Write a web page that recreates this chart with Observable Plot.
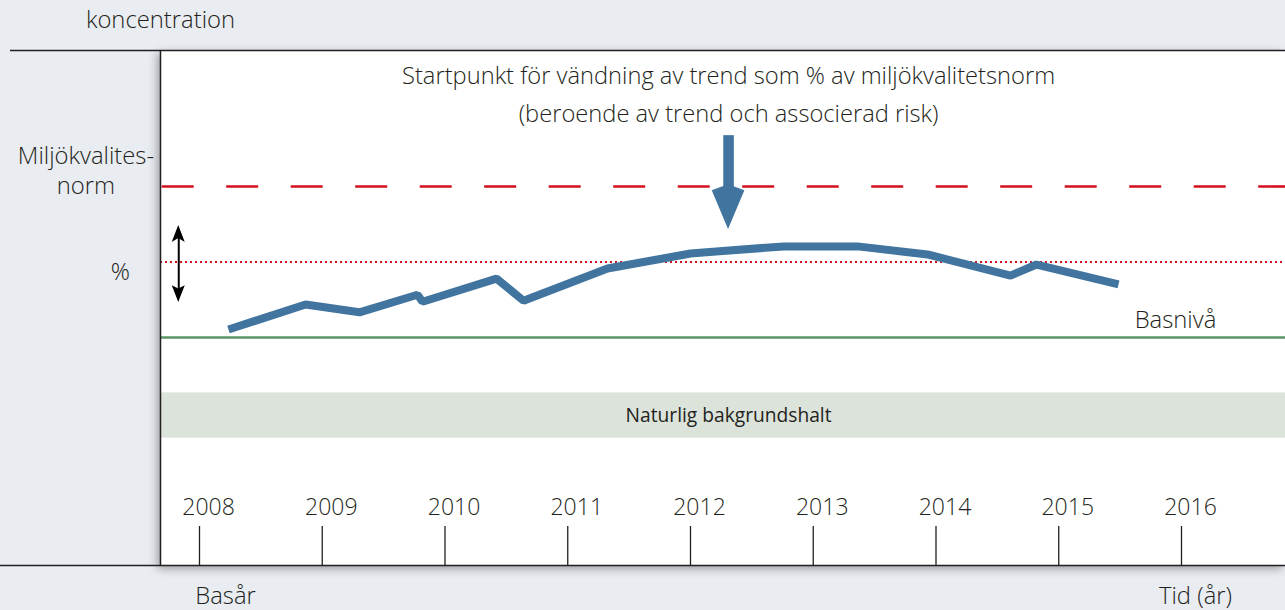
<!DOCTYPE html>
<html><head><meta charset="utf-8">
<script src="https://cdn.jsdelivr.net/npm/d3@7"></script>
<script src="https://cdn.jsdelivr.net/npm/@observablehq/plot@0.6"></script>
<style>
html,body{margin:0;padding:0;background:#e9ecf1;overflow:hidden;}
#chart svg text{font-family:"Open Sans",sans-serif;}
</style></head><body><div id="chart"></div>
<script>
// ---- data ----
const years = [2008, 2009, 2010, 2011, 2012, 2013, 2014, 2015, 2016];
const trendYears  = [2008.236, 2008.864, 2009.303, 2009.776, 2009.817, 2010.420, 2010.640, 2011.324, 2012.000, 2012.758, 2013.360, 2013.931, 2014.607, 2014.819, 2015.487];
const trendValues = [43.2, 53.1, 50.0, 57.0, 54.2, 63.4, 54.6, 67.4, 73.4, 76.2, 76.2, 73.0, 64.6, 69.0, 61.1];
const normValue = 100;      // Miljökvalitetsnorm
const pctValue = 70;        // % av norm
const baseValue = 40;       // Basnivå
const bgLow = 0, bgHigh = 18; // Naturlig bakgrundshalt

const titleText = "Startpunkt för vändning av trend som % av miljökvalitetsnorm\n(beroende av trend och associerad risk)";
const bandText = "Naturlig bakgrundshalt";

// ---- scales / layout (data units) ----
const xMin = 2007.6823, xMax = 2016.8473;
const yMin = -50.6, yMax = 154.04;
const tickTop = -35.1, tickLabelY = -27.6;
const arrowYear = 2012.31;
const dblArrowYear = 2007.831;

const rows = trendYears.map((x, i) => ({x, y: trendValues[i]}));

const ink = "#231f20";
const blue = "#41759f";
const red = "#d2101e";

const blueHead = [
  {x: 2012.177, y1: 98.3, y2: 98.3},
  {x: arrowYear, y1: 100.7, y2: 82.9},
  {x: 2012.443, y1: 98.3, y2: 98.3}
];
const upHead = [
  {x: dblArrowYear - 0.053, y1: 77.7, y2: 77.7},
  {x: dblArrowYear, y1: 79.3, y2: 84.5},
  {x: dblArrowYear + 0.053, y1: 77.7, y2: 77.7}
];
const downHead = [
  {x: dblArrowYear - 0.053, y1: 60.6, y2: 60.6},
  {x: dblArrowYear, y1: 59.3, y2: 53.9},
  {x: dblArrowYear + 0.053, y1: 60.6, y2: 60.6}
];

const labels = [
  {x: 2007.682, y: 165.9, t: "koncentration"},
  {x: 2007.075, y: 111.8, t: "Miljökvalites-"},
  {x: 2007.075, y: 100.0, t: "norm"},
  {x: 2007.356, y: 65.8, t: "%"},
  {x: 2015.951, y: 46.8, t: "Basnivå"},
  {x: 2008.212, y: -63.0, t: "Basår"},
  {x: 2016.114, y: -63.0, t: "Tid (år)"}
];

const chart = Plot.plot({
  width: 1285, height: 610,
  marginLeft: 160, marginRight: 0, marginTop: 50, marginBottom: 45,
  x: {domain: [xMin, xMax], axis: null},
  y: {domain: [yMin, yMax], axis: null},
  style: {background: "transparent", fontFamily: "Open Sans", overflow: "visible", color: ink},
  marks: [
    Plot.frame({fill: "white", stroke: "none"}),
    Plot.rect([{x1: xMin, x2: xMax, y1: bgLow, y2: bgHigh}], {x1: "x1", x2: "x2", y1: "y1", y2: "y2", fill: "#dce3da"}),
    Plot.text([bandText], {x: arrowYear, y: (bgLow + bgHigh) / 2, text: d => d, fontSize: 19.2, fill: ink}),
    Plot.ruleY([baseValue], {stroke: "#5a9663", strokeWidth: 2.6}),
    Plot.ruleY([pctValue], {stroke: red, strokeWidth: 2, strokeDasharray: "2,3"}),
    Plot.ruleY([normValue], {stroke: red, strokeWidth: 2.6, strokeDasharray: "32,32.5", strokeDashoffset: -1.7}),
    Plot.line(rows, {x: "x", y: "y", stroke: blue, strokeWidth: 8, strokeLinejoin: "miter", strokeLinecap: "butt"}),
    Plot.ruleX([arrowYear], {y1: 99.5, y2: 120.2, stroke: blue, strokeWidth: 10.6}),
    Plot.areaY(blueHead, {x: "x", y1: "y1", y2: "y2", fill: blue, curve: "linear"}),
    Plot.ruleX([dblArrowYear], {y1: 58, y2: 80, stroke: "black", strokeWidth: 2}),
    Plot.areaY(upHead, {x: "x", y1: "y1", y2: "y2", fill: "black"}),
    Plot.areaY(downHead, {x: "x", y1: "y1", y2: "y2", fill: "black"}),
    Plot.text([titleText], {x: arrowYear, y: 138.0, text: d => d, fontSize: 23.7, lineHeight: 1.6, fill: ink, fontWeight: 300}),
    Plot.ruleX(years, {y1: tickTop, y2: yMin, stroke: ink, strokeWidth: 1.3}),
    Plot.text(years, {x: d => d, y: tickLabelY, text: d => String(d), dx: 9, fontSize: 23, fill: ink, fontWeight: 300}),
    Plot.ruleY([yMax], {x1: () => 2006.46, x2: () => xMax, stroke: ink, strokeWidth: 1.5}),
    Plot.ruleY([yMin], {x1: () => 2006.37, x2: () => xMax, stroke: ink, strokeWidth: 1.5}),
    Plot.ruleX([xMin], {stroke: ink, strokeWidth: 1.5}),
    Plot.text(labels, {x: "x", y: "y", text: "t", textAnchor: "middle", fontSize: 23.8, fill: ink, fontWeight: 300})
  ]
});
const fr = chart.querySelector('[aria-label="frame"]');
if (fr) fr.style.filter = "drop-shadow(-3px 3px 5px rgba(0,0,0,0.35))";
document.getElementById("chart").appendChild(chart);
</script></body></html>
